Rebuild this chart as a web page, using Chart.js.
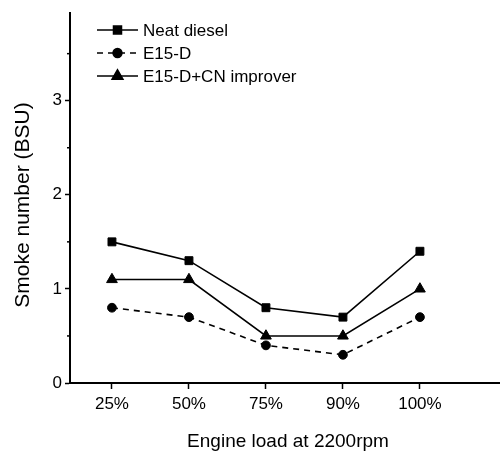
<!DOCTYPE html>
<html>
<head>
<meta charset="utf-8">
<script src="https://cdn.jsdelivr.net/npm/chart.js@4/dist/chart.umd.min.js"></script>
<style>
    html, body { margin: 0; padding: 0; background: #fff; }
    #wrap { width: 500px; height: 457px; }
</style>
</head>
<body>
<div id="wrap"><canvas id="smokeChart" width="500" height="457"></canvas></div>
<script>
// Smoke number vs engine load
const loadLabels = ['25%', '50%', '75%', '90%', '100%'];
const neatDiesel = [1.5, 1.3, 0.8, 0.7, 1.4];
const e15d = [0.8, 0.7, 0.4, 0.3, 0.7];
const e15dCn = [1.1, 1.1, 0.5, 0.5, 1.0];
const yTicks = [0, 1, 2, 3];
const yMinorTicks = [0.5, 1.5, 2.5, 3.5];
const xTitle = 'Engine load at 2200rpm';
const yTitle = 'Smoke number (BSU)';

const FONT = "'Liberation Sans', Arial, sans-serif";

function toPoints(values) {
    return values.map(function(v, i) { return {x: i, y: v}; });
}

const seriesStyle = [
    {label: 'Neat diesel', data: neatDiesel, pointStyle: 'rect', radius: 5.6, dash: []},
    {label: 'E15-D', data: e15d, pointStyle: 'circle', radius: 4.4, dash: [6, 5]},
    {label: 'E15-D+CN improver', data: e15dCn, pointStyle: 'triangle', radius: 6.2, dash: []}
];

// Minor ticks, axis titles and the line+marker legend
const extrasPlugin = {
    id: 'extras',
    afterDraw: function(chart) {
        const ctx = chart.ctx;
        const y = chart.scales.y;
        ctx.save();
        ctx.strokeStyle = '#000';
        ctx.fillStyle = '#000';
        ctx.lineWidth = 1.5;
        yMinorTicks.forEach(function(v) {
            const py = y.getPixelForValue(v);
            ctx.beginPath();
            ctx.moveTo(y.right - 3, py);
            ctx.lineTo(y.right, py);
            ctx.stroke();
        });

        // axis titles
        ctx.textAlign = 'center';
        ctx.textBaseline = 'middle';
        ctx.font = '19px ' + FONT;
        ctx.fillText(xTitle, 288, 442);
        ctx.save();
        ctx.translate(23, 205);
        ctx.rotate(-Math.PI / 2);
        ctx.font = '21px ' + FONT;
        ctx.fillText(yTitle, 0, 0);
        ctx.restore();

        // legend
        ctx.textAlign = 'left';
        ctx.font = '17px ' + FONT;
        seriesStyle.forEach(function(s, i) {
            const ly = 30 + i * 23;
            ctx.setLineDash(s.dash);
            ctx.lineWidth = 1.6;
            ctx.beginPath();
            ctx.moveTo(97, ly);
            ctx.lineTo(138, ly);
            ctx.stroke();
            ctx.setLineDash([]);
            Chart.helpers.drawPoint(ctx, {pointStyle: s.pointStyle, radius: s.radius, rotation: 0, borderWidth: 1}, 117.5, ly);
            ctx.fillText(s.label, 143, ly + 1);
        });
        ctx.restore();
    }
};

new Chart(document.getElementById('smokeChart').getContext('2d'), {
    type: 'line',
    data: {
        datasets: seriesStyle.map(function(s) {
            return {
                label: s.label,
                data: toPoints(s.data),
                borderColor: '#000',
                backgroundColor: '#000',
                borderWidth: 1.6,
                borderDash: s.dash,
                pointStyle: s.pointStyle,
                pointRadius: s.radius,
                pointBorderWidth: 1,
                tension: 0,
                clip: false
            };
        })
    },
    options: {
        responsive: false,
        animation: false,
        layout: {autoPadding: false, padding: {top: 10, right: 0, left: 0, bottom: 0}},
        plugins: {
            legend: {display: false},
            tooltip: {enabled: false}
        },
        scales: {
            x: {
                type: 'linear',
                min: -0.545,
                max: 5.04,
                afterBuildTicks: function(scale) {
                    scale.ticks = loadLabels.map(function(l, i) { return {value: i}; });
                },
                afterFit: function(scale) {
                    scale.height = 74;
                    scale.paddingLeft = 0;
                    scale.paddingRight = 0;
                },
                grid: {drawOnChartArea: false, drawTicks: true, tickLength: 6, color: '#000', tickWidth: 1.5},
                border: {display: true, color: '#000', width: 2},
                ticks: {
                    color: '#000',
                    font: {family: FONT, size: 17},
                    padding: 5,
                    maxRotation: 0,
                    callback: function(value) { return loadLabels[value]; }
                }
            },
            y: {
                min: 0,
                max: 3.93,
                afterBuildTicks: function(scale) {
                    scale.ticks = yTicks.map(function(v) { return {value: v}; });
                },
                afterFit: function(scale) { scale.width = 70; },
                grid: {drawOnChartArea: false, drawTicks: true, tickLength: 5, color: '#000', tickWidth: 1.5},
                border: {display: true, color: '#000', width: 2},
                ticks: {
                    color: '#000',
                    font: {family: FONT, size: 17},
                    padding: 3
                }
            }
        }
    },
    plugins: [extrasPlugin]
});
</script>
</body>
</html>
